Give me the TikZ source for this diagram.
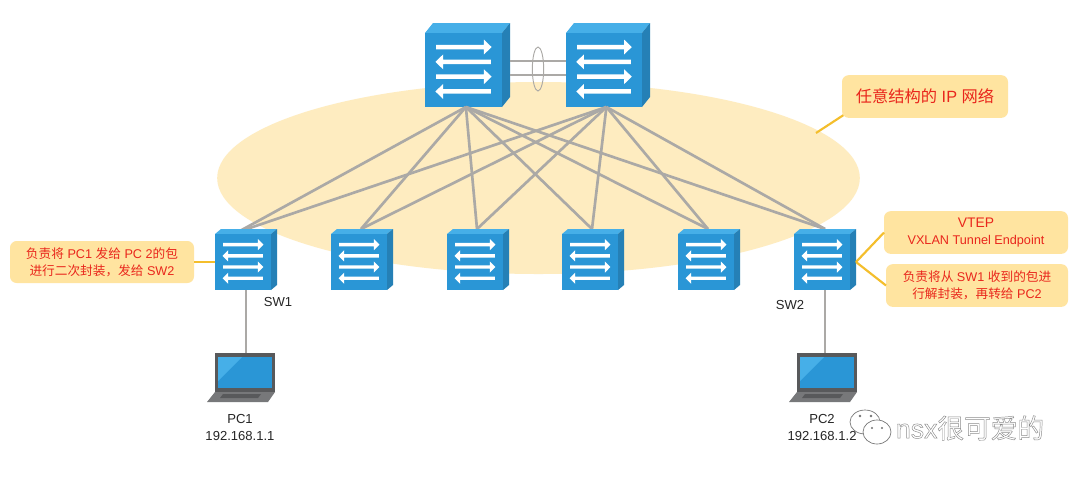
\documentclass[tikz,border=0pt]{standalone}
\usetikzlibrary{shapes.geometric}
\usepackage{fontspec}
\setmainfont{Liberation Sans}
\newfontfamily\cjk{Noto Sans CJK SC}
\newcommand\zh[1]{{\cjk #1}}
\definecolor{swfront}{HTML}{2A96D6}
\definecolor{swtop}{HTML}{46AFE8}
\definecolor{swside}{HTML}{2580B6}
\definecolor{cloud}{HTML}{FEECC0}
\definecolor{notefill}{HTML}{FFE4A0}
\definecolor{noteline}{HTML}{F4BE2C}
\definecolor{notetext}{HTML}{E9261C}
\definecolor{wire}{HTML}{ABA9A6}
\definecolor{lapframe}{HTML}{58595B}
\definecolor{lapbase}{HTML}{77787A}
\tikzset{
  hit/.style={inner sep=0pt,outer sep=0pt},
  wireline/.style={draw=wire,line width=2pt},
  noteedge/.style={draw=noteline,line width=1.6pt},
  notebox/.style={fill=notefill,rounded corners=5pt,inner sep=0pt,outer sep=0pt,align=center,text=notetext,font=\fontsize{9.5}{12.5}\selectfont},
  lbl/.style={inner sep=0pt,align=center,text=black!85,font=\fontsize{9.8}{12.6}\selectfont},
}
% name, x, y (top-left of the whole box), front w, front h, depth, top height
\newcommand\switchbox[7]{%
  \fill[swtop] (#2,#3+#7) -- (#2+#6,#3) -- (#2+#4+#6,#3) -- (#2+#4,#3+#7) -- cycle;
  \fill[swside] (#2+#4,#3+#7) -- (#2+#4+#6,#3) -- (#2+#4+#6,#3+#5) -- (#2+#4,#3+#5+#7) -- cycle;
  \fill[swfront] (#2,#3+#7) rectangle (#2+#4,#3+#7+#5);
  \begin{scope}[shift={(#2,#3+#7)},xscale=#4,yscale=#5]
    \foreach \f/\s in {.19/1,.39/-1,.59/1,.79/-1}
      \fill[white] (.5-\s*.355,\f-.03) -- (.5+\s*.265,\f-.03) -- (.5+\s*.265,\f-.1) -- (.5+\s*.365,\f) -- (.5+\s*.265,\f+.1) -- (.5+\s*.265,\f+.03) -- (.5-\s*.355,\f+.03) -- cycle;
  \end{scope}
  \node[hit,minimum width={(#4+#6)*0.75pt},minimum height={(#5+#7)*0.75pt}] (#1) at (#2+#4/2+#6/2,#3+#5/2+#7/2) {};
}
% name, x, y of the top-left corner of the screen
\newcommand\laptop[3]{%
  \fill[lapframe] (#2,#3) rectangle (#2+60,#3+39);
  \fill[swfront] (#2+3,#3+4) rectangle (#2+57,#3+35);
  \fill[swtop] (#2+3,#3+4) -- (#2+27,#3+4) -- (#2+3,#3+28) -- cycle;
  \fill[lapbase] (#2,#3+39) -- (#2+60,#3+39) -- (#2+53,#3+49) -- (#2-8,#3+49) -- cycle;
  \fill[lapframe] (#2+8,#3+41) -- (#2+46,#3+41) -- (#2+43,#3+45) -- (#2+5,#3+45) -- cycle;
  \node[hit,minimum width=45pt,minimum height=29pt] (#1) at (#2+30,#3+19.5) {};
}
\begin{document}
\begin{tikzpicture}[x=0.75pt,y=-0.75pt]
\useasboundingbox[fill=white] (0,0) rectangle (1080,476);
% IP network cloud
\node[hit,ellipse,fill=cloud,minimum width=482pt,minimum height=144pt] (ipnet) at (538.5,178) {};

% core switches and their two links
\switchbox{core1}{425}{23}{77}{74}{8}{10}
\switchbox{core2}{566}{23}{76}{74}{8}{10}
\draw[wireline] ([yshift=3pt]core1.east) coordinate (a1) -- (a1 -| core2.west);
\draw[wireline] ([yshift=-7.5pt]core1.east) coordinate (a2) -- (a2 -| core2.west);
\node[hit,draw=wire,line width=.7pt,ellipse,minimum width=8.5pt,minimum height=33pt] (lag) at (538,69) {};

% access switches
\coordinate (t1) at (238,232);
\coordinate (t2) at (361,229);
\coordinate (t3) at (477,229);
\coordinate (t4) at (592,229);
\coordinate (t5) at (708,229);
\coordinate (t6) at (825,229);
\foreach \cc in {core1,core2}
  \foreach \tt in {t1,t2,t3,t4,t5,t6}
    \draw[wireline] ([xshift=-1.2pt]\cc.south) -- (\tt);
\switchbox{sw1}{215}{229}{56}{56}{6}{5}
\switchbox{swa}{331}{229}{56}{56}{6}{5}
\switchbox{swb}{447}{229}{56}{56}{6}{5}
\switchbox{swc}{562}{229}{56}{56}{6}{5}
\switchbox{swd}{678}{229}{56}{56}{6}{5}
\switchbox{sw2}{794}{229}{56}{56}{6}{5}

% laptops
\laptop{pc1}{215}{353}
\laptop{pc2}{797}{353}
\draw[wireline] (sw1.south) -- (sw1.south |- pc1.north);
\draw[wireline] (sw2.south) -- (sw2.south |- pc2.north);

% callouts
\coordinate (ipend) at (816,133);
\coordinate (sw1w) at (215,262);
\coordinate (sw2e) at (856,262);
\node[notebox,minimum width=138pt,minimum height=31.5pt] (note1) at (102,262) {\zh{负责将} PC1 \zh{发给} PC 2\zh{的包}\\\zh{进行二次封装，发给} SW2};
\node[notebox,minimum width=138pt,minimum height=32pt] (note2) at (976,232.5) {\fontsize{10.4}{13}\selectfont VTEP\\VXLAN Tunnel Endpoint};
\node[notebox,minimum width=136.5pt,minimum height=32pt] (note3) at (977,285.5) {\zh{负责将从} SW1 \zh{收到的包进}\\\zh{行解封装，再转给} PC2};
\node[notebox,minimum width=124.5pt,minimum height=32pt,font=\fontsize{12.2}{14}\selectfont] (note4) at (925,96.5) {\zh{任意结构的} IP \zh{网络}};
\draw[noteedge] (note1.east) -- (sw1w);
\draw[noteedge] (sw2e) -- (note2.west);
\draw[noteedge] (sw2e) -- (note3.west);
\draw[noteedge] ([xshift=1pt,yshift=2pt]note4.south west) -- (ipend);

% labels
\node[lbl] (l1) at (278,302) {SW1};
\node[lbl] (l2) at (790,305) {SW2};
\node[lbl] (l3) at (240,427.5) {PC1\\192.168.1.1};
\node[lbl] (l4) at (822,427.5) {PC2\\192.168.1.2};

% watermark
\begin{scope}[draw=black!55,line width=.5pt]
  \draw[fill=white] (865,422) ellipse (15 and 12);
  \draw[fill=white] (877,432) ellipse (14 and 12);
  \fill[black!55] (860,416) circle (1.3) (871,416) circle (1.3) (872,428) circle (1.1) (882,428) circle (1.1);
\end{scope}
\node[hit,text=black!45,font=\fontsize{20}{22}\selectfont] (wm) at (970,428) {\special{pdf:code q 1 Tr 0.35 w}nsx\zh{很可爱的}\special{pdf:code Q}};
\end{tikzpicture}
\end{document}
